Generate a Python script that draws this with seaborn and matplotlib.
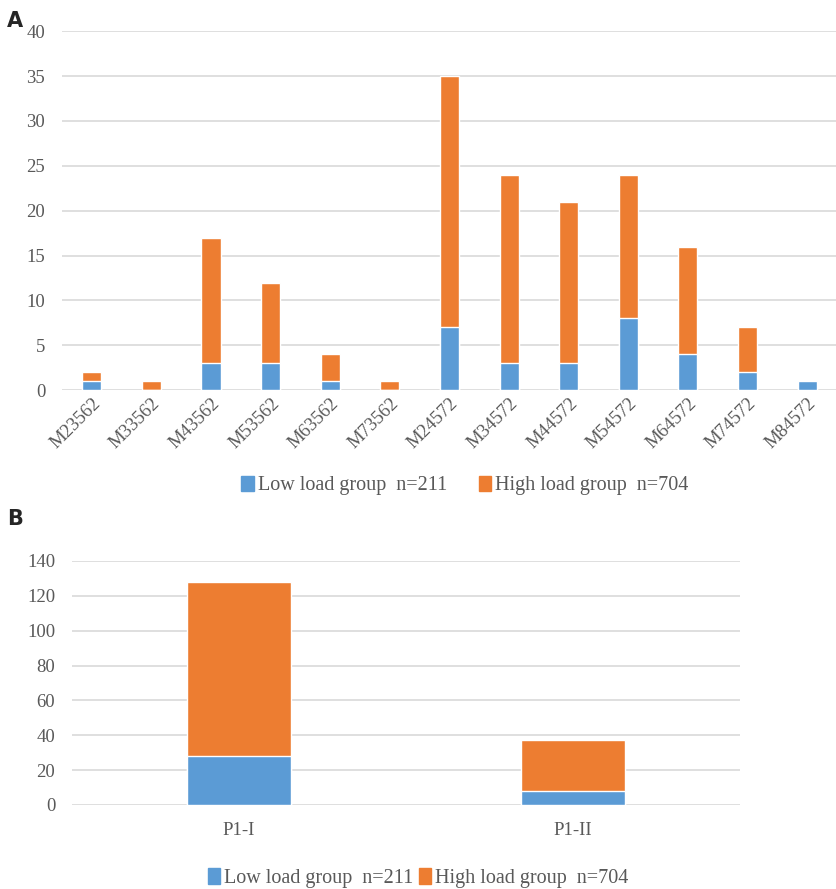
import matplotlib
matplotlib.use("Agg")
import matplotlib.pyplot as plt
import seaborn as sns
import pandas as pd
from matplotlib.patches import Patch

# panel A data
loci = ["M23562", "M33562", "M43562", "M53562", "M63562", "M73562", "M24572",
        "M34572", "M44572", "M54572", "M64572", "M74572", "M84572"]
low_a = [1, 0, 3, 3, 1, 0, 7, 3, 3, 8, 4, 2, 1]
high_a = [1, 1, 14, 9, 3, 1, 28, 21, 18, 16, 12, 5, 0]

# panel B data
groups = ["P1-I", "P1-II"]
low_b = [28, 8]
high_b = [100, 29]

low_label = "Low load group  n=211"
high_label = "High load group  n=704"

BLUE = "#5B9BD5"
ORANGE = "#ED7D31"
GRID = "#D9D9D9"
TXT = "#595959"

sns.set_style("white")
plt.rcParams["font.family"] = ["Liberation Serif", "DejaVu Serif"]


def stacked(ax, cats, low, high, width):
    df = pd.DataFrame({"cat": cats, "low": low,
                       "total": [l + h for l, h in zip(low, high)]})
    sns.barplot(data=df, x="cat", y="total", color=ORANGE, width=width,
                saturation=1, ax=ax, zorder=3)
    sns.barplot(data=df, x="cat", y="low", color=BLUE, width=width,
                saturation=1, ax=ax, zorder=4)
    for sp in ax.spines.values():
        sp.set_visible(False)
    ax.yaxis.grid(True, color=GRID, linewidth=1.2, zorder=0)
    ax.set_axisbelow(True)
    ax.set_xlabel("")
    ax.set_ylabel("")
    ax.tick_params(axis="both", length=0, colors=TXT, labelsize=13.5)
    ax.set_xlim(-0.5, len(cats) - 0.5)


fig = plt.figure(figsize=(8.37, 8.89), dpi=100)

# ---- panel A
ax1 = fig.add_axes([0.074, 0.561, 0.926, 0.404])
stacked(ax1, loci, low_a, high_a, 0.32)
ax1.set_ylim(0, 40)
ax1.set_yticks(range(0, 41, 5))
ax1.tick_params(axis="y", pad=12)
plt.setp(ax1.get_xticklabels(), rotation=45, ha="right",
         rotation_mode="anchor")
handles = [Patch(color=BLUE, label=low_label), Patch(color=ORANGE, label=high_label)]
ax1.legend(handles=handles, loc="center", bbox_to_anchor=(0.52, -0.265),
           ncol=2, frameon=False, fontsize=14.5, handlelength=0.6,
           handleheight=0.8, handletextpad=0.2, columnspacing=1.6,
           labelcolor=TXT)

# ---- panel B
ax2 = fig.add_axes([0.086, 0.0945, 0.798, 0.2745])
stacked(ax2, groups, low_b, high_b, 0.31)
ax2.set_ylim(0, 140)
ax2.set_yticks(range(0, 141, 20))
ax2.tick_params(axis="y", pad=12)
ax2.tick_params(axis="x", pad=12)
ax2.legend(handles=handles, loc="center", bbox_to_anchor=(0.518, -0.3),
           ncol=2, frameon=False, fontsize=14.5, handlelength=0.6,
           handleheight=0.8, handletextpad=0.2, columnspacing=0.3,
           labelcolor=TXT)

fig.text(0.008, 0.988, "A", fontsize=15, fontweight="bold",
         family="DejaVu Sans", va="top")
fig.text(0.008, 0.427, "B", fontsize=15, fontweight="bold",
         family="DejaVu Sans", va="top")

fig.savefig("out.png", dpi=100)
